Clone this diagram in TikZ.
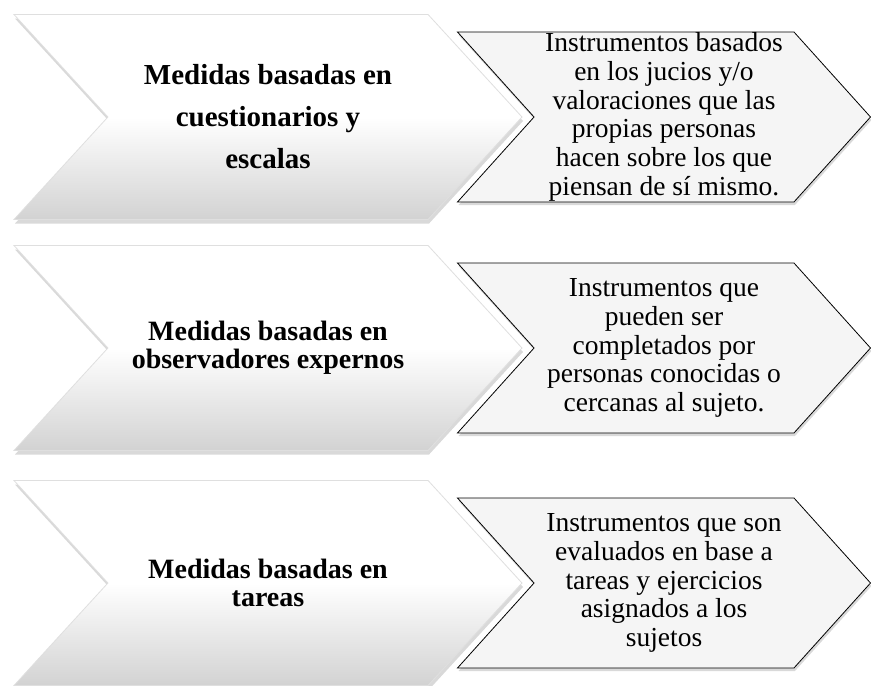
\documentclass[tikz,border=0pt]{standalone}
\usepackage{fontspec}
\setmainfont{Liberation Serif}
\usetikzlibrary{shapes.symbols,shadows}
\tikzset{
  medida/.style={signal, signal from=west, signal to=east, signal pointer angle=95,
    minimum width=508pt, minimum height=205pt, inner sep=0pt,
    top color=white, bottom color=gray!35, middle color=white, draw=gray!25, line width=.8pt,
    drop shadow={shadow xshift=1pt, shadow yshift=-4pt, opacity=.3},
    align=center, font=\bfseries\fontsize{28}{28}\selectfont},
  detalle/.style={signal, signal from=west, signal to=east, signal pointer angle=96,
    minimum width=413pt, minimum height=170pt, inner sep=0pt,
    fill=gray!8, draw=black, line width=.8pt,
    drop shadow={shadow xshift=1pt, shadow yshift=-3pt, opacity=.3},
    align=center, font=\fontsize{27.5}{28.7}\selectfont}
}
\begin{document}
\begin{tikzpicture}[x=1pt,y=-1pt]
\useasboundingbox (0,0) rectangle (871,686);
\node[medida, font=\bfseries\fontsize{29}{42}\selectfont] (m1) at (268,117) {Medidas basadas en\\cuestionarios y\\escalas};
\node[medida] (m2) at (268,348) {Medidas basadas en\\observadores expernos};
\node[medida] (m3) at (268,583) {Medidas basadas en\\tareas};
\node[detalle] (d1) at (664,117) {Instrumentos basados\\en los jucios y/o\\valoraciones que  las\\propias personas\\hacen sobre los que\\piensan de sí mismo.};
\node[detalle] (d2) at (664,348) {Instrumentos que\\pueden ser\\completados por\\personas conocidas o\\cercanas al sujeto.};
\node[detalle] (d3) at (664,583) {Instrumentos que son\\evaluados en base a\\tareas y ejercicios\\asignados a los\\sujetos};
\end{tikzpicture}
\end{document}
